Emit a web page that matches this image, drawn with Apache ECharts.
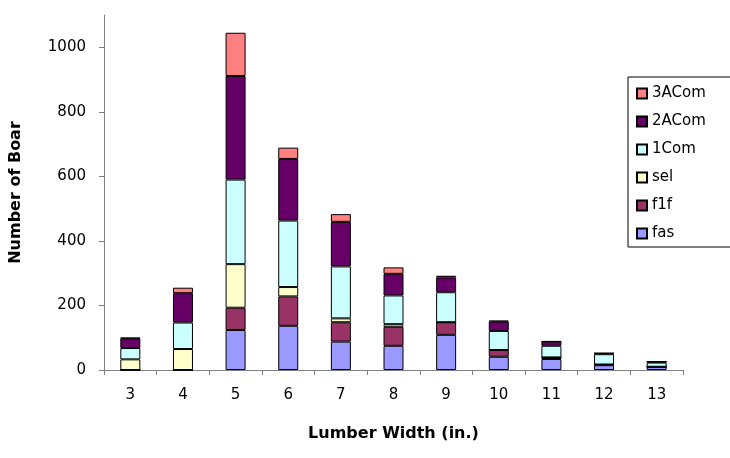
<!DOCTYPE html>
<html>
<head>
<meta charset="utf-8">
<script src="https://cdn.jsdelivr.net/npm/echarts@6/dist/echarts.min.js"></script>
<style>
  html, body { margin: 0; padding: 0; background: #fff; }
  #chart { width: 730px; height: 458px; }
</style>
</head>
<body>
<div id="chart"></div>
<script>
// lumber width categories (in.)
var widths = ['3', '4', '5', '6', '7', '8', '9', '10', '11', '12', '13'];

// board counts per grade, bottom of stack first
var fas   = [0, 0, 124, 137, 88, 75, 109, 41, 34, 15, 10];
var f1f   = [0, 0, 69, 91, 60, 59, 39, 21, 5, 2, 0];
var sel   = [33, 65, 135, 29, 12, 8, 0, 0, 0, 0, 0];
var com1  = [35, 82, 262, 206, 161, 89, 93, 59, 36, 32, 13];
var com2a = [30, 91, 321, 191, 138, 67, 46, 29, 13, 3, 3];
var com3a = [2, 17, 134, 35, 24, 20, 5, 3, 1, 0, 0];

var chart = echarts.init(document.getElementById('chart'));

function bar(name, data, color) {
	return {
		name: name,
		type: 'bar',
		stack: 'total',
		barWidth: 20,
		data: data,
		itemStyle: {
			color: color,
			borderColor: '#000',
			borderWidth: 1
		}
	};
}

var font = 'DejaVu Sans';

var option = {
	backgroundColor: '#fff',
	animation: false,
	textStyle: { fontFamily: font, color: '#000' },
	legend: {
		orient: 'vertical',
		left: 628,
		top: 77,
		padding: [9, 30, 6, 8],
		borderColor: '#000',
		borderWidth: 1,
		itemWidth: 10,
		itemHeight: 10,
		itemGap: 13,
		icon: 'rect',
		textStyle: { fontFamily: font, fontSize: 15, color: '#000' },
		data: ['3ACom', '2ACom', '1Com', 'sel', 'f1f', 'fas']
	},
	grid: {
		left: 104,
		right: 47,
		top: 15,
		bottom: 88
	},
	xAxis: {
		type: 'category',
		data: widths,
		name: 'Lumber Width (in.)',
		nameLocation: 'middle',
		nameGap: 56,
		nameTextStyle: { fontFamily: font, fontSize: 16, fontWeight: 'bold', color: '#000' },
		axisLine: { lineStyle: { color: '#808080', width: 1 } },
		axisTick: { show: true, length: 5, lineStyle: { color: '#808080' } },
		axisLabel: { margin: 18, fontFamily: font, fontSize: 15, color: '#000' }
	},
	yAxis: {
		type: 'value',
		min: 0,
		max: 1100,
		interval: 200,
		name: 'Number of Boar',
		nameLocation: 'middle',
		nameGap: 80,
		nameTextStyle: { fontFamily: font, fontSize: 16, fontWeight: 'bold', color: '#000' },
		axisLine: { show: true, lineStyle: { color: '#808080', width: 1 } },
		axisTick: { show: true, length: 5, lineStyle: { color: '#808080' } },
		axisLabel: {
			margin: 18,
			fontFamily: font,
			fontSize: 15,
			color: '#000',
			showMaxLabel: false,
			formatter: function (v) { return String(v); }
		},
		splitLine: { show: false }
	},
	series: [
		bar('fas', fas, '#9999FF'),
		bar('f1f', f1f, '#993366'),
		bar('sel', sel, '#FFFFCC'),
		bar('1Com', com1, '#CCFFFF'),
		bar('2ACom', com2a, '#660066'),
		bar('3ACom', com3a, '#FF8080')
	]
};

chart.setOption(option);
</script>
</body>
</html>
